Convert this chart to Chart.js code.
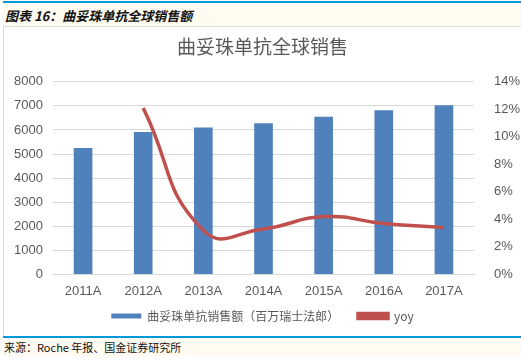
<!DOCTYPE html>
<html>
<head>
<meta charset="utf-8">
<script src="https://cdn.jsdelivr.net/npm/chart.js@4.4.1/dist/chart.umd.min.js"></script>
<style>
    html, body { margin: 0; padding: 0; background: #ffffff; }
    body { width: 521px; height: 362px; position: relative; overflow: hidden; font-family: "Noto Sans CJK SC", sans-serif; }
    #topline { position: absolute; left: 3px; top: 1px; width: 518px; height: 2px; background: #0099d9; }
    #header { position: absolute; left: 3px; top: 3px; width: 518px; height: 23px; background: #fffbf0; }
    #header span { position: absolute; left: 2px; top: 3px; font-size: 13px; font-weight: bold; font-style: italic; color: #111; }
    #box { position: absolute; left: 3px; top: 26px; width: 517px; height: 309px; border-left: 1px solid #d9d9d9; border-top: 1px solid #d9d9d9; background: #fff; }
    #bottomline { position: absolute; left: 3px; top: 336px; width: 518px; height: 2px; background: #0099d9; }
    #source { position: absolute; left: 3px; top: 338px; width: 518px; height: 18px; background: #fffbf0; }
    #source span { position: absolute; left: 1px; top: 1px; font-size: 11px; color: #111; }
</style>
</head>
<body>
<div id="topline"></div>
<div id="header"><span>图表 16：曲妥珠单抗全球销售额</span></div>
<div id="box"><canvas id="chart" width="517" height="309"></canvas></div>
<div id="bottomline"></div>
<div id="source"><span>来源：Roche 年报、国金证券研究所</span></div>
<script>
const years = ['2011A', '2012A', '2013A', '2014A', '2015A', '2016A', '2017A'];
const sales = [5250, 5920, 6100, 6280, 6550, 6820, 7030];
const yoy = [null, 12.1, 3.2, 3.3, 4.2, 3.7, 3.4];
const salesTicks = [0, 1000, 2000, 3000, 4000, 5000, 6000, 7000, 8000];
const yoyTicks = [0, 2, 4, 6, 8, 10, 12, 14];

const grey = '#595959';
const tickFont = { family: 'Liberation Sans, Arial, sans-serif', size: 13 };

new Chart(document.getElementById('chart'), {
    data: {
        labels: years,
        datasets: [
            {
                type: 'line',
                label: 'yoy',
                data: yoy,
                yAxisID: 'y1',
                borderColor: '#c0504d',
                backgroundColor: '#c0504d',
                borderWidth: 3.5,
                pointRadius: 0,
                tension: 0.5,
                order: 0
            },
            {
                type: 'bar',
                label: '曲妥珠单抗销售额（百万瑞士法郎）\u3000 ',
                data: sales,
                yAxisID: 'y',
                backgroundColor: '#4f81bd',
                categoryPercentage: 1,
                barPercentage: 0.31,
                order: 1
            }
        ]
    },
    options: {
        responsive: false,
        animation: false,
        layout: { padding: { left: 0, right: 0, top: 0, bottom: 4 } },
        plugins: {
            title: {
                display: true,
                text: '曲妥珠单抗全球销售',
                color: grey,
                font: { family: 'Noto Sans CJK SC', size: 19, weight: 'normal' },
                padding: { top: 8, bottom: 24 }
            },
            legend: {
                position: 'bottom',
                reverse: true,
                labels: {
                    color: grey,
                    boxWidth: 30,
                    boxHeight: 5,
                    padding: 10,
                    font: { family: 'Noto Sans CJK SC', size: 12 }
                }
            },
            tooltip: { enabled: false }
        },
        scales: {
            x: {
                grid: { display: false },
                border: { color: '#d9d9d9' },
                ticks: { color: grey, font: tickFont, padding: 1 }
            },
            y: {
                position: 'left',
                min: 0,
                max: 8000,
                afterBuildTicks: (s) => { s.ticks = salesTicks.map(v => ({ value: v })); },
                afterFit: (s) => { s.width = 49; },
                grid: { color: '#d9d9d9', drawTicks: false },
                border: { display: false },
                ticks: { color: grey, font: tickFont, padding: 10, callback: (v) => String(v) }
            },
            y1: {
                position: 'right',
                min: 0,
                max: 14,
                afterBuildTicks: (s) => { s.ticks = yoyTicks.map(v => ({ value: v })); },
                afterFit: (s) => { s.width = 47; },
                grid: { display: false },
                border: { display: false },
                ticks: { color: grey, font: tickFont, padding: 12, callback: (v) => v + '%' }
            }
        }
    }
});
</script>
</body>
</html>
